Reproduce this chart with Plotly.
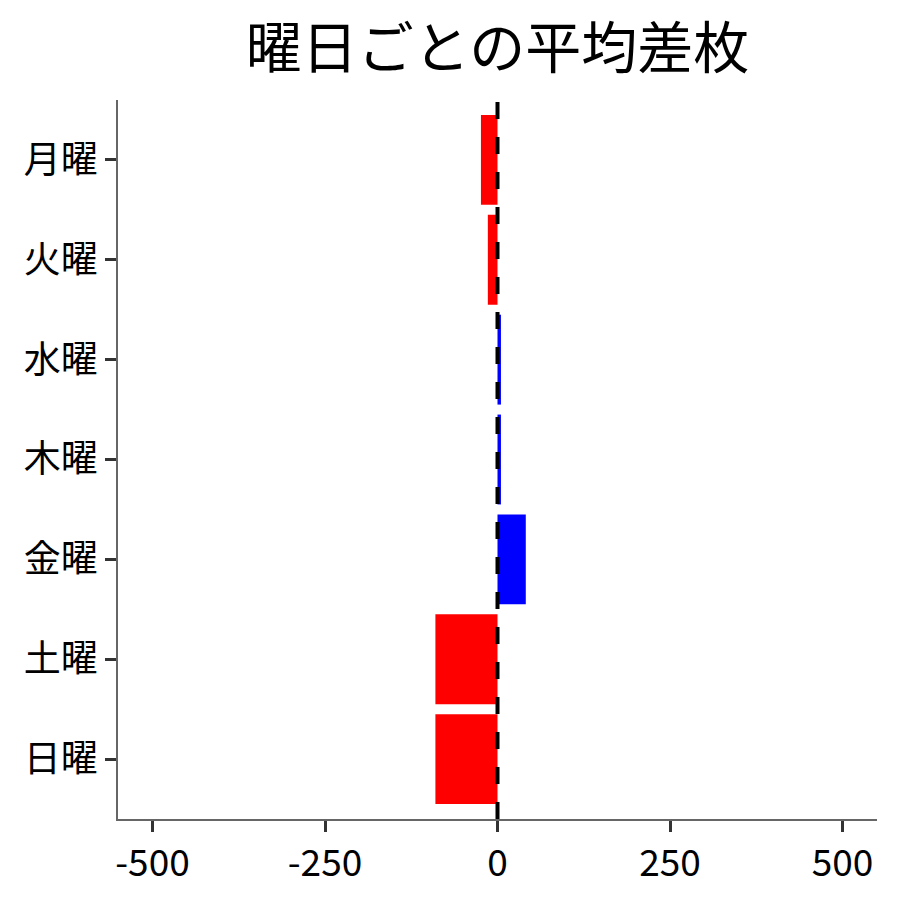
import plotly.graph_objects as go

days = ["月曜", "火曜", "水曜", "木曜", "金曜", "土曜", "日曜"]
avg_diff = [-24, -14, 5, 5, 41, -90, -90]
x_ticks = [-500, -250, 0, 250, 500]

colors = ["#ff0000" if v < 0 else "#0000ff" for v in avg_diff]

fig = go.Figure()
fig.add_trace(go.Bar(y=days, x=avg_diff, orientation="h",
                     marker=dict(color=colors, line=dict(width=0)),
                     width=0.9, showlegend=False))

# zero line
fig.add_shape(type="line", x0=0, x1=0, xref="x", y0=0, y1=1, yref="paper",
              line=dict(color="black", width=4, dash="17px,18px"), layer="above")

fig.update_layout(
    width=900, height=900,
    plot_bgcolor="white", paper_bgcolor="white",
    font=dict(family="Noto Sans CJK JP", color="black"),
    title=dict(text="曜日ごとの平均差枚", x=0.5, xref="paper", xanchor="center",
               y=0.955, yanchor="middle", font=dict(size=56, color="black")),
    margin=dict(l=110, r=31, t=92, b=89),
)
fig.update_xaxes(range=[-550, 550], tickvals=x_ticks, ticktext=[str(t) for t in x_ticks],
                 showgrid=False, zeroline=False, showline=True, linecolor="#666", linewidth=1.5,
                 ticks="outside", ticklen=11, tickwidth=3, tickcolor="#333",
                 tickfont=dict(size=37, color="black"))
fig.update_yaxes(range=[6.6, -0.6], showgrid=False, zeroline=False,
                 showline=True, linecolor="#666", linewidth=1.5,
                 ticks="outside", ticklen=11, tickwidth=3, tickcolor="#333",
                 tickfont=dict(size=37, color="black"))

fig.write_html("out.html")
